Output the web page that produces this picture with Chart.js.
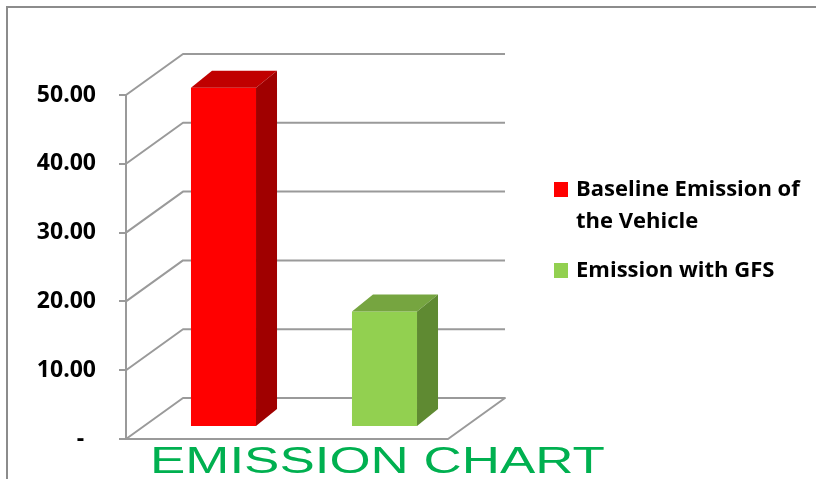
<!DOCTYPE html>
<html>
<head>
<meta charset="utf-8">
<title>Emission Chart</title>
<script src="https://cdn.jsdelivr.net/npm/chart.js@4.4.0/dist/chart.umd.min.js"></script>
<style>
  html, body { margin: 0; padding: 0; background: #fff; }
  #wrap { width: 816px; height: 479px; position: relative; }
</style>
</head>
<body>
<div id="wrap"><canvas id="emissionChart"></canvas></div>
<script>
// datos
const categories = ['Baseline Emission of the Vehicle', 'Emission with GFS'];
const emissionValues = [49.3, 16.8];
const yTickValues = [0, 10, 20, 30, 40, 50];
const chartTitle = 'EMISSION CHART';

// colores de las caras (frente, tapa, lado)
const frontColors = ['#FF0000', '#92D050'];
const topColors = ['#C00000', '#76A540'];
const sideColors = ['#A00000', '#5F8A32'];

const WALL = { dx: 57, dy: -41 };      // profundidad del piso / pared del fondo
const BAR_SHIFT = { dx: 17, dy: -12 }; // barras metidas un poco en el piso
const BAR_DEPTH = { dx: 21, dy: -17 };
const GRID_COLOR = '#9a9a9a';

// paredes, barras en 3D, leyenda y titulo
const fake3d = {
  id: 'fake3d',
  beforeDraw(chart) {
    const ctx = chart.ctx;
    ctx.save();
    ctx.strokeStyle = '#8c8c8c';
    ctx.lineWidth = 2;
    ctx.beginPath();
    ctx.moveTo(7, 479);
    ctx.lineTo(7, 7);
    ctx.lineTo(816, 7);
    ctx.stroke();
    ctx.restore();
  },
  beforeDatasetsDraw(chart) {
    const { ctx, chartArea: a, scales: { y } } = chart;
    ctx.save();
    ctx.strokeStyle = GRID_COLOR;
    ctx.lineWidth = 2;
    ctx.lineJoin = 'round';
    yTickValues.forEach(v => {
      const py = y.getPixelForValue(v);
      ctx.beginPath();
      if (v === 0) {
        ctx.moveTo(a.left, py);
        ctx.lineTo(a.right, py);
        ctx.lineTo(a.right + WALL.dx, py + WALL.dy);
        ctx.lineTo(a.left + WALL.dx, py + WALL.dy);
        ctx.closePath();
      } else {
        ctx.moveTo(a.left, py);
        ctx.lineTo(a.left + WALL.dx, py + WALL.dy);
        ctx.lineTo(a.right + WALL.dx, py + WALL.dy);
      }
      ctx.stroke();
    });
    ctx.restore();

    // se queda trasladado hasta afterDatasetsDraw
    ctx.save();
    ctx.translate(BAR_SHIFT.dx, BAR_SHIFT.dy);
  },
  afterDatasetsDraw(chart) {
    const ctx = chart.ctx;
    const meta = chart.getDatasetMeta(0);
    meta.data.forEach((bar, i) => {
      const { x, y, base, width } = bar.getProps(['x', 'y', 'base', 'width'], true);
      const l = x - width / 2, r = x + width / 2;
      const dx = BAR_DEPTH.dx, dy = BAR_DEPTH.dy;

      ctx.fillStyle = topColors[i];
      ctx.beginPath();
      ctx.moveTo(l, y);
      ctx.lineTo(r, y);
      ctx.lineTo(r + dx, y + dy);
      ctx.lineTo(l + dx, y + dy);
      ctx.closePath();
      ctx.fill();

      ctx.fillStyle = sideColors[i];
      ctx.beginPath();
      ctx.moveTo(r, y);
      ctx.lineTo(r + dx, y + dy);
      ctx.lineTo(r + dx, base + dy);
      ctx.lineTo(r, base);
      ctx.closePath();
      ctx.fill();
    });
    ctx.restore();
  },
  afterDraw(chart) {
    const ctx = chart.ctx;
    ctx.save();

    // leyenda
    ctx.font = "bold 22px 'Open Sans'";
    ctx.textBaseline = 'alphabetic';
    ctx.textAlign = 'left';
    let baseY = 196;
    categories.forEach((cat, i) => {
      const lines = wrapText(ctx, cat, 232);
      ctx.fillStyle = frontColors[i];
      ctx.fillRect(554, baseY - 14, 14, 15);
      ctx.fillStyle = '#000';
      lines.forEach((ln, k) => ctx.fillText(ln, 576, baseY + k * 32));
      baseY += lines.length * 32 + 17;
    });

    // titulo abajo, estirado a lo ancho como en el original
    ctx.fillStyle = '#00B050';
    ctx.font = "36px 'Liberation Sans', Arial, sans-serif";
    ctx.translate(150, 473);
    ctx.scale(1.47, 1);
    ctx.fillText(chartTitle, 0, 0);
    ctx.restore();
  }
};

function wrapText(ctx, text, maxW) {
  const words = text.split(' ');
  const out = [];
  let cur = '';
  words.forEach(w => {
    const test = cur ? cur + ' ' + w : w;
    if (cur && ctx.measureText(test).width > maxW) {
      out.push(cur);
      cur = w;
    } else {
      cur = test;
    }
  });
  if (cur) out.push(cur);
  return out;
}

new Chart(document.getElementById('emissionChart'), {
  type: 'bar',
  data: {
    labels: categories,
    datasets: [{
      label: 'Emission',
      data: emissionValues,
      backgroundColor: frontColors,
      borderWidth: 0,
      barPercentage: 0.404,
      categoryPercentage: 1,
      clip: false
    }]
  },
  options: {
    responsive: true,
    maintainAspectRatio: false,
    animation: false,
    layout: { padding: { left: 0, top: 95, right: 368, bottom: 40 } },
    plugins: {
      legend: { display: false },
      title: { display: false },
      tooltip: { enabled: false }
    },
    scales: {
      x: { display: false },
      y: {
        min: 0,
        max: 50,
        afterFit: s => { s.width = 126; },
        afterBuildTicks: s => { s.ticks = yTickValues.map(v => ({ value: v })); },
        border: { display: true, color: GRID_COLOR, width: 2 },
        grid: { drawOnChartArea: false, drawTicks: true, tickLength: 7, color: GRID_COLOR, lineWidth: 2 },
        ticks: {
          padding: 23,
          color: '#000',
          font: { family: "'Open Sans'", size: 23, weight: 'bold' },
          callback: v => v === 0 ? '-  ' : v.toFixed(2)
        }
      }
    }
  },
  plugins: [fake3d]
});
</script>
</body>
</html>
